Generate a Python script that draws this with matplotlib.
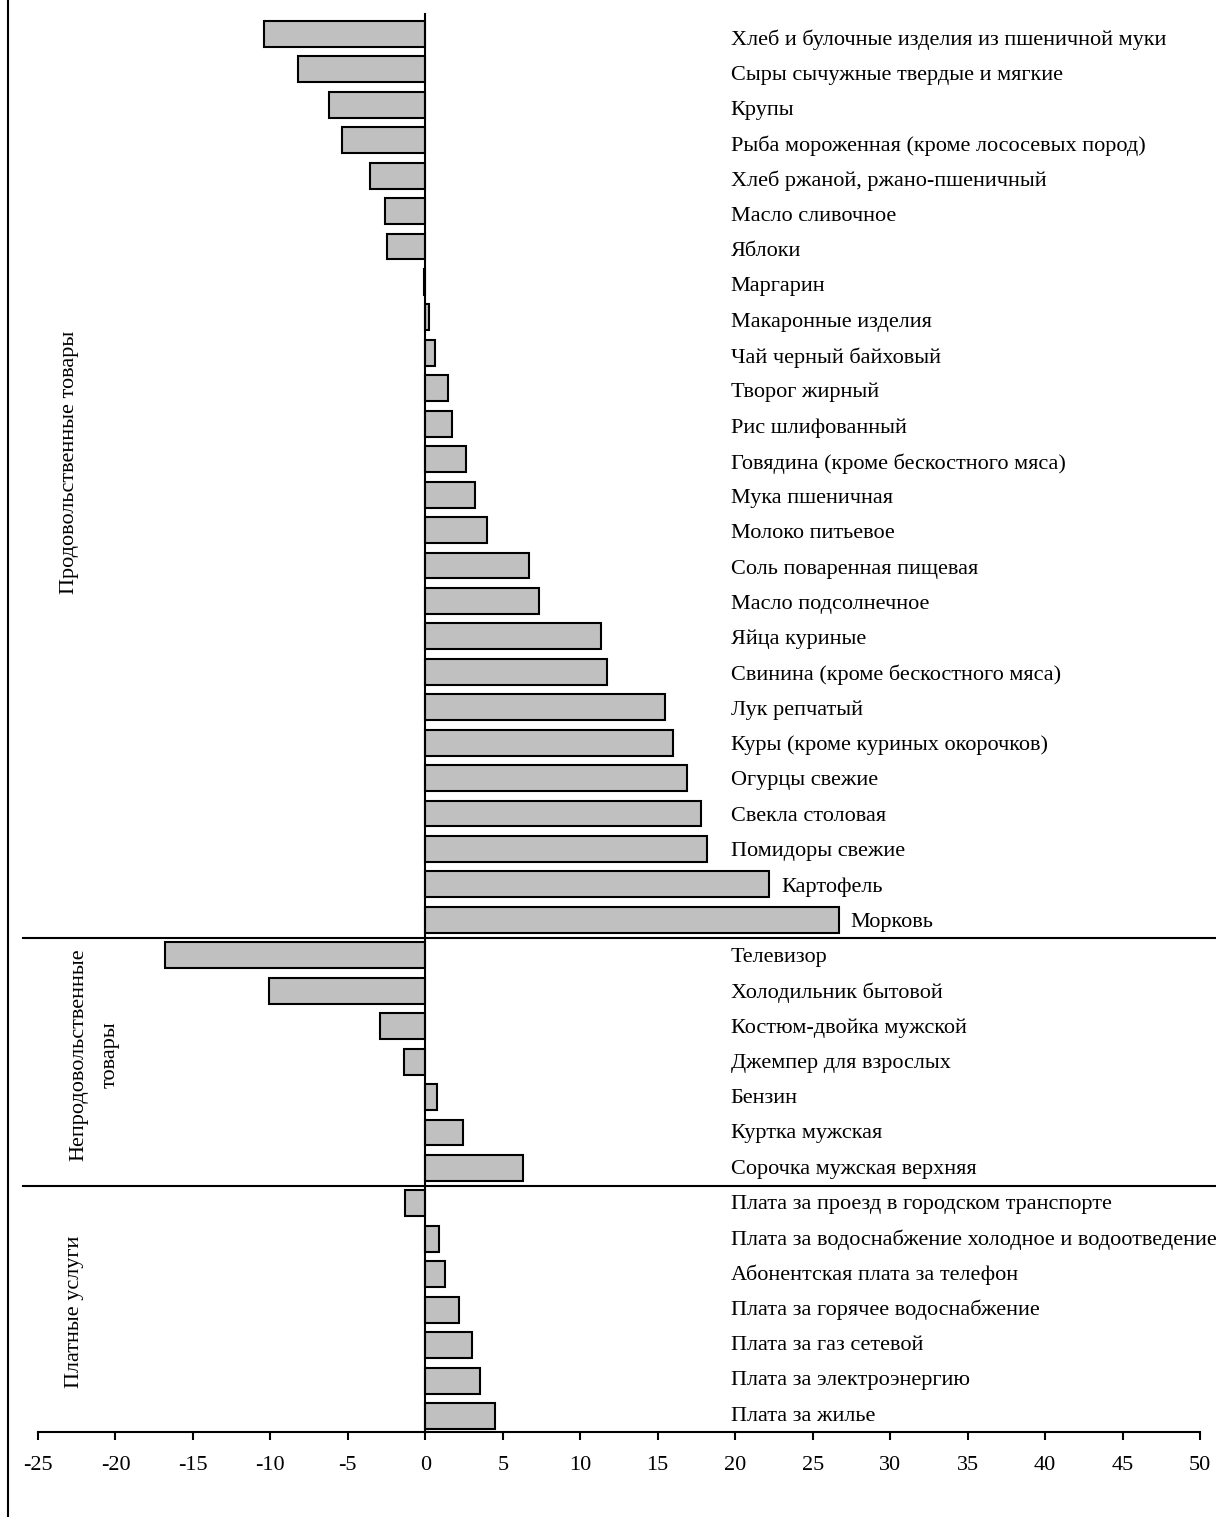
import matplotlib

matplotlib.use("Agg")

import matplotlib.pyplot as plt
from matplotlib.lines import Line2D

plt.rcParams["font.family"] = ["Liberation Serif", "DejaVu Serif"]
plt.rcParams["axes.unicode_minus"] = False

food_items = [
    "Хлеб и булочные изделия из пшеничной муки",
    "Сыры сычужные твердые и мягкие",
    "Крупы",
    "Рыба мороженная (кроме лососевых пород)",
    "Хлеб ржаной, ржано-пшеничный",
    "Масло сливочное",
    "Яблоки",
    "Маргарин",
    "Макаронные изделия",
    "Чай черный байховый",
    "Творог жирный",
    "Рис шлифованный",
    "Говядина (кроме бескостного мяса)",
    "Мука пшеничная",
    "Молоко питьевое",
    "Соль поваренная пищевая",
    "Масло подсолнечное",
    "Яйца куриные",
    "Свинина (кроме бескостного мяса)",
    "Лук репчатый",
    "Куры (кроме куриных окорочков)",
    "Огурцы свежие",
    "Свекла столовая",
    "Помидоры свежие",
    "Картофель",
    "Морковь",
]
food_values = [-10.4, -8.2, -6.2, -5.35, -3.55, -2.6, -2.45, -0.1, 0.25, 0.65,
               1.45, 1.7, 2.6, 3.2, 4.0, 6.7, 7.35, 11.35, 11.75, 15.5,
               16.0, 16.9, 17.8, 18.2, 22.2, 26.7]

nonfood_items = [
    "Телевизор",
    "Холодильник бытовой",
    "Костюм-двойка мужской",
    "Джемпер для взрослых",
    "Бензин",
    "Куртка мужская",
    "Сорочка мужская верхняя",
]
nonfood_values = [-16.8, -10.1, -2.95, -1.35, 0.75, 2.45, 6.3]

service_items = [
    "Плата за проезд в городском транспорте",
    "Плата за водоснабжение холодное и водоотведение",
    "Абонентская плата за телефон",
    "Плата за горячее водоснабжение",
    "Плата за газ сетевой",
    "Плата за электроэнергию",
    "Плата за жилье",
]
service_values = [-1.3, 0.9, 1.3, 2.2, 3.0, 3.5, 4.5]

group_names = ["Продовольственные товары", "Непродовольственные\nтовары", "Платные услуги"]
x_ticks = list(range(-25, 51, 5))

items = food_items + nonfood_items + service_items
values = food_values + nonfood_values + service_values
rows = list(range(len(items)))

fig = plt.figure(figsize=(12.16, 15.17), dpi=100)
W, H = 1216, 1517
ax = fig.add_axes([38 / W, (H - 1432) / H, (1200 - 38) / W, (1432 - 14) / H])

ax.barh(rows, values, height=0.73, color="#c0c0c0", edgecolor="black", linewidth=1.5, zorder=2)

ax.set_xlim(-25, 50)
ax.set_ylim(39.45, -0.56)
ax.set_xticks(x_ticks)
ax.set_yticks([])
for name in ["top", "right"]:
    ax.spines[name].set_visible(False)
ax.spines["left"].set_position(("data", 0))
ax.spines["left"].set_linewidth(1.5)
ax.spines["left"].set_zorder(3)
ax.spines["bottom"].set_linewidth(1.5)
ax.tick_params(axis="x", direction="out", length=6, width=1.5, labelsize=16, pad=11)

n_rows = len(items)
for y, (label, value) in enumerate(zip(items, values)):
    # labels drift a little below the bar centres towards the top
    ax.text(max(19.7, value + 0.75), y + 0.17 * (1 - y / (n_rows - 1)), label,
            va="center", ha="left", fontsize=16)

# separators between groups
n1 = len(food_items)
n2 = n1 + len(nonfood_items)
for sep in [n1 - 0.5, n2 - 0.5]:
    ax.plot([-26, 51], [sep, sep], color="black", linewidth=1.5, clip_on=False)

# group captions on the left
ax.text(-22.95, 12.1, group_names[0], rotation=90, ha="center", va="center", fontsize=16)
ax.text(-21.35, 28.8, group_names[1], rotation=90, ha="center", va="center",
        fontsize=16, multialignment="center", linespacing=1.85)
ax.text(-22.65, 36.05, group_names[2], rotation=90, ha="center", va="center", fontsize=16)

fig.add_artist(Line2D([8 / W, 8 / W], [0, 1], color="black", linewidth=1.5))

fig.savefig("out.png", dpi=100)
plt.close(fig)
